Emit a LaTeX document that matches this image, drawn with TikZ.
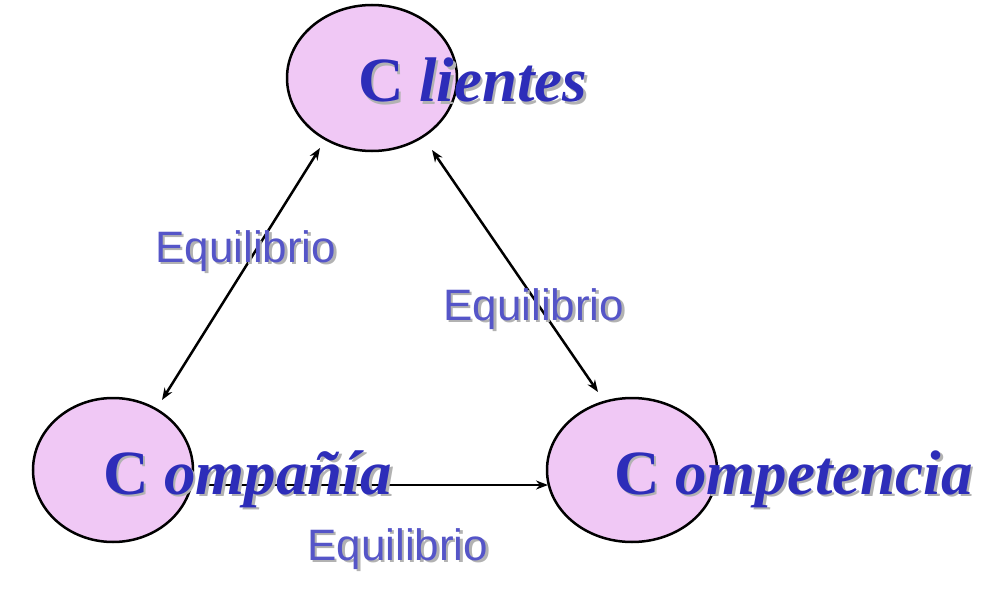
\documentclass[tikz,border=0pt]{standalone}
\usepackage{fontspec}
\setmainfont{Liberation Serif}
\newfontfamily\lsans{Liberation Sans}
\usetikzlibrary{shapes.geometric,calc,arrows.meta}
\definecolor{fillp}{RGB}{240,200,245}
\definecolor{tblue}{RGB}{45,45,185}
\definecolor{lblue}{RGB}{85,85,200}
\tikzset{
 blob/.style={ellipse,draw=black,line width=2.5pt,fill=fillp},
 arr/.style={line width=2.5pt,-{Stealth[length=12pt,width=9pt]}},
 big/.style={font=\fontsize{63}{63}\selectfont\bfseries,text=tblue,inner sep=0},
 lab/.style={font=\lsans\fontsize{44}{44}\selectfont,text=lblue,inner sep=0},
}
\newcommand{\shtext}[4]{\node[#1,text=gray!60,anchor=base west] at ($(#2)+(2.5,2.5)$) {#4};\node[#1,anchor=base west] (#3) at (#2) {#4};}
\begin{document}
\begin{tikzpicture}[x=1pt,y=-1pt]
\useasboundingbox (0,0) rectangle (991,594);
\node[blob,minimum width=170,minimum height=146] (cl) at (372,78) {};
\node[blob,minimum width=160,minimum height=144] (co) at (113,470) {};
\node[blob,minimum width=170,minimum height=144] (cm) at (632,470) {};
\coordinate (a1) at (320,148); \coordinate (a2) at (162,400);
\coordinate (b1) at (432,150); \coordinate (b2) at (598,392);
\coordinate (c1) at (200,485); \coordinate (c2) at (548,485);
\draw[arr,{Stealth[length=12pt,width=9pt]}-{Stealth[length=12pt,width=9pt]}] (a1) -- (a2);
\draw[arr,{Stealth[length=12pt,width=9pt]}-{Stealth[length=12pt,width=9pt]}] (b1) -- (b2);
\draw[arr] (c1) -- (c2);
\shtext{big}{358,102}{t1}{C \textit{lientes}}
\shtext{big}{103,494}{t2}{C \textit{ompañía}}
\shtext{big}{614,494}{t3}{C \textit{ompetencia}}
\shtext{lab}{155,262}{l1}{Equilibrio}
\shtext{lab}{443,320}{l2}{Equilibrio}
\shtext{lab}{307,560}{l3}{Equilibrio}
\end{tikzpicture}
\end{document}
